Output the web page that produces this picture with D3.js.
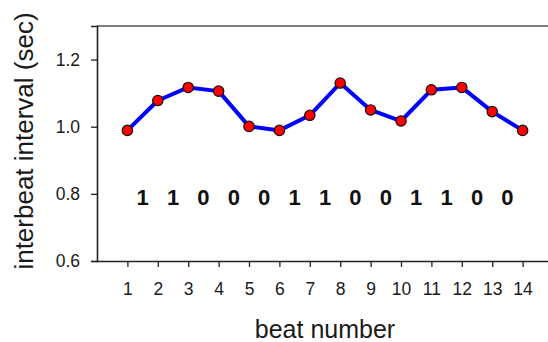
<!DOCTYPE html>
<html>
<head>
<meta charset="utf-8">
<script src="https://cdn.jsdelivr.net/npm/d3@7"></script>
<style>
  html, body { margin: 0; padding: 0; background: #fff; }
  svg { display: block; font-family: "Liberation Sans", Arial, sans-serif; }
</style>
</head>
<body>
<svg id="chart" width="548" height="342"></svg>
<script>
// Interbeat intervals (seconds) for beats 1..14
const beats = [1, 2, 3, 4, 5, 6, 7, 8, 9, 10, 11, 12, 13, 14];
const intervals = [0.989, 1.078, 1.117, 1.106, 1.001, 0.989, 1.034, 1.130, 1.050, 1.017, 1.110, 1.117, 1.045, 0.989];
// Binary code written between consecutive beats
const bits = ["1", "1", "0", "0", "0", "1", "1", "0", "0", "1", "1", "0", "0"];
const yTicks = [0.6, 0.8, 1.0, 1.2];

const svg = d3.select("#chart");
const plot = { left: 97, top: 26, bottom: 261, right: 553 };

const x = d3.scaleLinear().domain([0, 15]).range([plot.left, plot.right]);
const y = d3.scaleLinear().domain([0.6, 1.3]).range([plot.bottom, plot.top]);

// frame (top and right edges)
svg.append("path")
  .attr("d", `M${plot.left},${plot.top}H${plot.right}V${plot.bottom}`)
  .attr("fill", "none")
  .attr("stroke", "#555")
  .attr("stroke-width", 1.3);

// y axis
const yAxis = svg.append("g")
  .attr("transform", `translate(${plot.left},0)`)
  .call(d3.axisLeft(y).tickValues(yTicks).tickFormat(d3.format(".1f")).tickSize(6).tickPadding(11));

// x axis
const xAxis = svg.append("g")
  .attr("transform", `translate(0,${plot.bottom})`)
  .call(d3.axisBottom(x).tickValues(beats).tickFormat(d3.format("d")).tickSize(6).tickPadding(16));

[yAxis, xAxis].forEach(g => {
  g.select(".domain").attr("stroke", "#222").attr("stroke-width", 1.6);
  g.selectAll(".tick line").attr("stroke", "#222").attr("stroke-width", 1.3);
  g.selectAll(".tick text").attr("fill", "#1a1a1a").style("font-size", "17.5px")
    .style("font-family", "'Liberation Sans', Arial, sans-serif");
});
xAxis.select(".domain").attr("d", `M${plot.left},0.5H${plot.right}`);

// interval line
svg.append("path")
  .datum(beats.map((b, i) => [b, intervals[i]]))
  .attr("fill", "none")
  .attr("stroke", "#0000ff")
  .attr("stroke-width", 4)
  .attr("stroke-linejoin", "round")
  .attr("d", d3.line().x(d => x(d[0])).y(d => y(d[1])));

// markers
svg.append("g").selectAll("circle")
  .data(beats.map((b, i) => [b, intervals[i]]))
  .join("circle")
  .attr("cx", d => x(d[0]))
  .attr("cy", d => y(d[1]))
  .attr("r", 5.2)
  .attr("fill", "#ff0000")
  .attr("stroke", "#111")
  .attr("stroke-width", 1.2);

// bit labels
svg.append("g").selectAll("text")
  .data(bits)
  .join("text")
  .attr("x", (d, i) => x(beats[i] + 0.5))
  .attr("y", y(0.8) + 11)
  .attr("text-anchor", "middle")
  .attr("font-weight", "bold")
  .attr("font-size", 22)
  .attr("fill", "#111")
  .text(d => d);

// axis titles
svg.append("text")
  .attr("x", (plot.left + plot.right) / 2)
  .attr("y", 338)
  .attr("text-anchor", "middle")
  .attr("font-size", 25)
  .attr("fill", "#1a1a1a")
  .text("beat number");

svg.append("text")
  .attr("transform", `translate(33,141) rotate(-90)`)
  .attr("text-anchor", "middle")
  .attr("font-size", 26)
  .attr("fill", "#1a1a1a")
  .text("interbeat interval (sec)");
</script>
</body>
</html>
